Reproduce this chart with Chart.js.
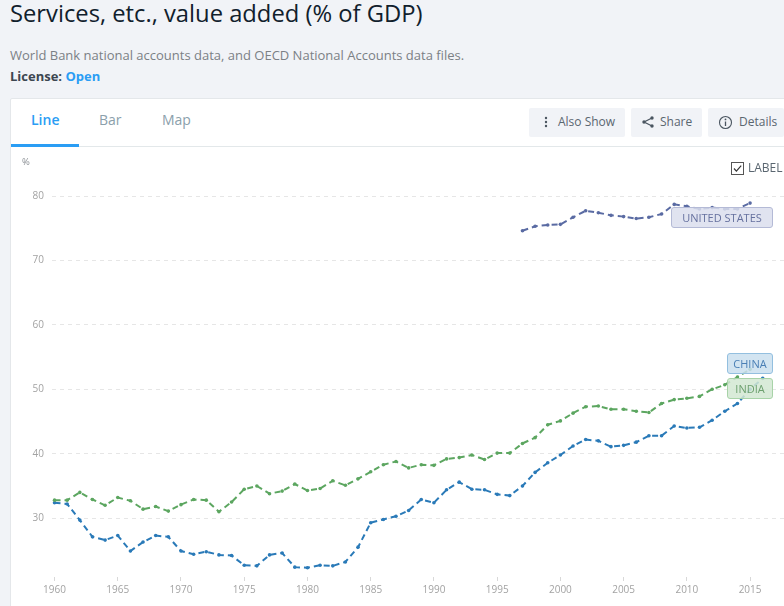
<!DOCTYPE html>
<html>
<head>
<meta charset="utf-8">
<title>Services, etc., value added (% of GDP)</title>
<script src="https://cdn.jsdelivr.net/npm/chart.js@4/dist/chart.umd.min.js"></script>
<style>
html, body { margin: 0; padding: 0; }
body { width: 784px; height: 606px; overflow: hidden; position: relative; background: #f1f3f7; font-family: "Open Sans", sans-serif; }
.abs { position: absolute; white-space: nowrap; }
#title { left: 10px; top: -5px; font-size: 23.75px; line-height: 36px; color: #10202c; }
#source { left: 10px; top: 45px; font-size: 13px; line-height: 20px; color: #7b8085; }
#license { left: 10px; top: 67px; font-size: 13px; line-height: 18px; font-weight: 700; color: #3c4650; }
#license span { color: #2a9df4; }
#card { left: 10px; top: 98px; width: 790px; height: 520px; background: #fff; border: 1px solid #e4e7ea; box-sizing: border-box; border-radius: 2px 0 0 0; }
#headline { left: 11px; top: 146px; width: 773px; height: 1px; background: #e3e8ea; }
#underline { left: 11px; top: 144px; width: 68px; height: 3px; background: #2a9df4; }
.tab { top: 110px; font-size: 14px; line-height: 20px; color: #8ba0ab; }
.btn { top: 108px; height: 29px; background: #f1f3f7; border-radius: 2px; font-size: 12px; line-height: 28px; color: #5a6670; box-sizing: border-box; }
.btn svg { position: absolute; top: 7px; }
#chartbox { position: absolute; left: 11px; top: 147px; width: 800px; height: 459px; }
#unit { left: 22px; top: 155px; font-size: 9.5px; line-height: 13px; color: #8a8f94; }
#labelbox { left: 731px; top: 162px; width: 13px; height: 13px; border: 1px solid #555; box-sizing: border-box; background: #fff; }
#labeltext { left: 748px; top: 159px; font-size: 12px; line-height: 18px; color: #5a6670; }
.tag { position: absolute; box-sizing: border-box; height: 21px; border-radius: 3px; font-size: 11px; line-height: 19px; text-align: center; border: 1px solid; white-space: nowrap; }
#tagUS { left: 671px; top: 207px; width: 102px; background: rgba(218,222,237,.85); border-color: #b4bad6; color: #66719f; }
#tagChina { left: 727px; top: 353px; width: 46px; background: rgba(202,223,238,.85); border-color: #93bfdf; color: #4a7fb5; }
#tagIndia { left: 727px; top: 378px; width: 46px; background: rgba(210,232,210,.85); border-color: #a8d3a8; color: #6da06f; }
</style>
</head>
<body>
<div class="abs" id="title">Services, etc., value added (% of GDP)</div>
<div class="abs" id="source">World Bank national accounts data, and OECD National Accounts data files.</div>
<div class="abs" id="license">License: <span>Open</span></div>

<div class="abs" id="card"></div>
<div class="abs" id="headline"></div>
<div class="abs" id="underline"></div>
<div class="abs tab" style="left:31px;color:#2a9df4;font-weight:600">Line</div>
<div class="abs tab" style="left:99px">Bar</div>
<div class="abs tab" style="left:162px">Map</div>

<div class="abs btn" style="left:529px;width:96px;padding-left:29px">
  <svg style="left:12px" width="10" height="14" viewBox="0 0 10 14"><g fill="#4a5560"><circle cx="5" cy="3" r="1.2"/><circle cx="5" cy="7" r="1.2"/><circle cx="5" cy="11" r="1.2"/></g></svg>Also Show</div>
<div class="abs btn" style="left:631px;width:71px;padding-left:29px">
  <svg style="left:10px" width="14" height="14" viewBox="0 0 14 14"><path d="M11 3L3 7l8 4" fill="none" stroke="#4a5560" stroke-width="1.2"/><g fill="#4a5560"><circle cx="11" cy="3" r="1.7"/><circle cx="3" cy="7" r="1.7"/><circle cx="11" cy="11" r="1.7"/></g></svg>Share</div>
<div class="abs btn" style="left:708px;width:76px;padding-left:31px">
  <svg style="left:10px" width="15" height="15" viewBox="0 0 15 15"><circle cx="7.5" cy="7.5" r="6" fill="none" stroke="#4a5560" stroke-width="1.1"/><path d="M7.5 6.5v4.5" stroke="#4a5560" stroke-width="1.3"/><circle cx="7.5" cy="4.4" r=".9" fill="#4a5560"/></svg>Details</div>

<div id="chartbox"><canvas id="graph"></canvas></div>

<div class="abs" id="unit">%</div>
<div class="abs" id="labelbox"><svg style="display:block" width="11" height="11" viewBox="0 0 11 11"><path d="M2 5.5l2.4 2.6L9.2 2.6" fill="none" stroke="#333" stroke-width="1.2"/></svg></div>
<div class="abs" id="labeltext">LABEL</div>
<div class="tag" id="tagUS">UNITED STATES</div>
<div class="tag" id="tagChina">CHINA</div>
<div class="tag" id="tagIndia">INDIA</div>

<script>
const years = [1960,1961,1962,1963,1964,1965,1966,1967,1968,1969,
    1970,1971,1972,1973,1974,1975,1976,1977,1978,1979,
    1980,1981,1982,1983,1984,1985,1986,1987,1988,1989,
    1990,1991,1992,1993,1994,1995,1996,1997,1998,1999,
    2000,2001,2002,2003,2004,2005,2006,2007,2008,2009,
    2010,2011,2012,2013,2014,2015,2016];

const chinaValues = [32.4,32.2,29.7,27.1,26.6,27.3,24.9,26.3,27.3,27.1,
    24.9,24.4,24.8,24.3,24.2,22.7,22.6,24.3,24.6,22.4,
    22.3,22.7,22.6,23.2,25.5,29.3,29.8,30.3,31.2,32.9,
    32.4,34.4,35.6,34.5,34.4,33.7,33.5,35.0,37.1,38.6,
    39.8,41.2,42.2,42.0,41.1,41.3,41.8,42.8,42.8,44.3,
    44.0,44.1,45.2,46.6,47.8,50.0,51.7];

const indiaValues = [32.8,32.8,34.0,32.9,32.0,33.2,32.7,31.4,31.8,31.1,
    32.1,32.9,32.8,31.0,32.5,34.5,35.0,33.8,34.2,35.3,
    34.3,34.6,35.8,35.1,36.1,37.2,38.3,38.8,37.8,38.3,
    38.2,39.2,39.4,39.8,39.1,40.1,40.1,41.6,42.5,44.5,
    45.1,46.3,47.3,47.4,46.9,46.9,46.6,46.4,47.8,48.4,
    48.6,48.9,50.0,50.7,51.9,53.1];

const usYears = [1997,1998,1999,2000,2001,2002,2003,2004,2005,2006,
    2007,2008,2009,2010,2011,2012,2013,2014,2015];
const usValues = [74.6,75.3,75.5,75.6,76.7,77.7,77.4,77.0,76.8,76.5,
    76.7,77.2,78.7,78.4,78.0,78.2,78.0,78.0,78.9];

const xTicks = [1960,1965,1970,1975,1980,1985,1990,1995,2000,2005,2010,2015];
const yTicks = [30,40,50,60,70,80];

function points(xs, ys){
    return ys.map((y, i) => ({x: xs[i], y: y}));
}

function series(label, xs, ys, color){
    return {
        label: label,
        data: points(xs, ys),
        borderColor: color,
        backgroundColor: color,
        borderWidth: 2,
        borderDash: [6, 4],
        pointRadius: 1.8,
        pointBorderWidth: 0,
        tension: 0
    };
}

new Chart(document.querySelector("#graph").getContext("2d"), {
    type: 'line',
    data: {
        datasets: [
            series('India', years, indiaValues, '#5ca660'),
            series('China', years, chinaValues, '#2a7ab8'),
            series('United States', usYears, usValues, '#5a6ba3')
        ]
    },
    options: {
        responsive: true,
        maintainAspectRatio: false,
        animation: false,
        layout: { padding: { top: 49, right: 0, left: 0, bottom: 0 } },
        plugins: { legend: { display: false }, tooltip: { enabled: false } },
        scales: {
            x: {
                type: 'linear',
                min: 1959.8,
                max: 2019.5,
                afterBuildTicks(scale){ scale.ticks = xTicks.map(v => ({value: v})); },
                afterFit(scale){ scale.height = 29; },
                border: { display: false },
                grid: { drawOnChartArea: false, drawTicks: true, tickLength: 4, color: '#d8d8d8' },
                ticks: {
                    color: '#a3a3a3',
                    font: { family: 'Open Sans', size: 10 },
                    maxRotation: 0,
                    autoSkip: false,
                    padding: 3,
                    callback: v => String(v)
                }
            },
            y: {
                min: 20.87,
                max: 80,
                afterBuildTicks(scale){ scale.ticks = yTicks.map(v => ({value: v})); },
                afterFit(scale){ scale.width = 41; },
                border: { display: false, dash: [4, 4] },
                grid: { drawTicks: false, color: '#e6e6e6' },
                ticks: {
                    color: '#a3a3a3',
                    font: { family: 'Open Sans', size: 10 },
                    padding: 8
                }
            }
        }
    }
});
</script>
</body>
</html>
